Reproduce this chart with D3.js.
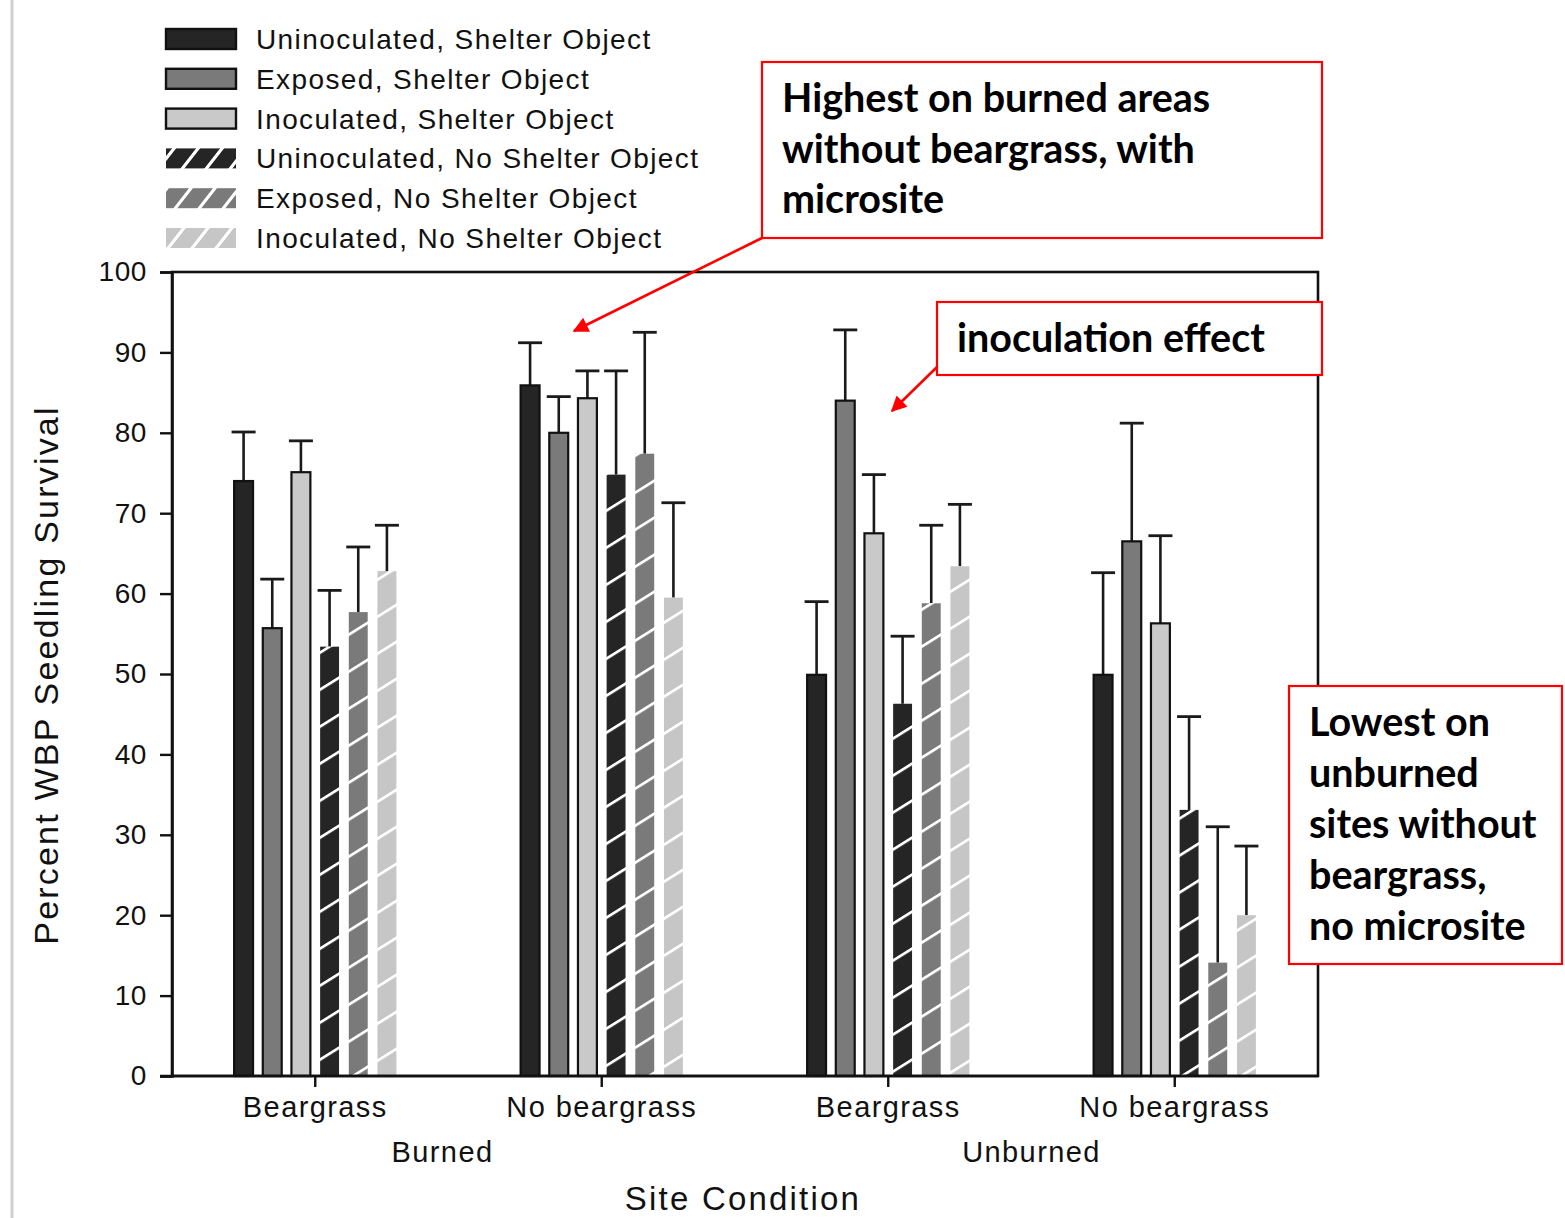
<!DOCTYPE html>
<html><head><meta charset="utf-8">
<script src="https://cdn.jsdelivr.net/npm/d3@7"></script>
<style>
html,body{margin:0;padding:0;background:#fff;}
svg{display:block;}
.sans{font-family:"Liberation Sans",Arial,sans-serif;fill:#111;}
.note{font-family:Lato,"Open Sans",sans-serif;font-weight:700;fill:#000;}
</style></head>
<body>
<svg id="chart" width="1565" height="1218"></svg>
<script>
// ---------------- data ----------------
const categories = ["Beargrass", "No beargrass", "Beargrass", "No beargrass"];
const sites = ["Burned", "Unburned"];
const seriesNames = [
  "Uninoculated, Shelter Object",
  "Exposed, Shelter Object",
  "Inoculated, Shelter Object",
  "Uninoculated, No Shelter Object",
  "Exposed, No Shelter Object",
  "Inoculated, No Shelter Object"
];
const uninocShelter    = [74.0, 85.9, 49.9, 49.9];
const exposedShelter   = [55.7, 80.0, 84.0, 66.5];
const inocShelter      = [75.1, 84.3, 67.5, 56.3];
const uninocNoShelter  = [53.4, 74.8, 46.3, 33.1];
const exposedNoShelter = [57.7, 77.4, 58.8, 14.1];
const inocNoShelter    = [62.8, 59.5, 63.4, 20.0];

const uninocShelterErr    = [6.1, 5.3, 9.1, 12.7];
const exposedShelterErr   = [6.1, 4.5, 8.8, 14.7];
const inocShelterErr      = [3.9, 3.4, 7.3, 10.9];
const uninocNoShelterErr  = [7.0, 12.9, 8.4, 11.6];
const exposedNoShelterErr = [8.1, 15.1, 9.7, 16.9];
const inocNoShelterErr    = [5.7, 11.8, 7.7, 8.6];

const yTicks = [0, 10, 20, 30, 40, 50, 60, 70, 80, 90, 100];

const annotations = [
  ["Highest on burned areas", "without beargrass, with", "microsite"],
  ["inoculation effect"],
  ["Lowest on", "unburned", "sites without", "beargrass,", "no microsite"]
];

// ---------------- build ----------------
const means = [uninocShelter, exposedShelter, inocShelter, uninocNoShelter, exposedNoShelter, inocNoShelter];
const errs  = [uninocShelterErr, exposedShelterErr, inocShelterErr, uninocNoShelterErr, exposedNoShelterErr, inocNoShelterErr];
const fills = ["#252525", "#7a7a7a", "#c9c9c9", "#252525", "#7a7a7a", "#c6c6c6"];
const hatched = [false, false, false, true, true, true];

const svg = d3.select("#chart");
const pL = 172, pR = 1318, pT = 272, pB = 1076;

const defs = svg.append("defs");
fills.forEach((c, i) => {
  if (!hatched[i]) return;
  const p = defs.append("pattern").attr("id", "hatch" + i)
    .attr("patternUnits", "userSpaceOnUse").attr("width", 10).attr("height", 37)
    .attr("patternTransform", "skewY(-32)");
  p.append("rect").attr("width", 10).attr("height", 37).attr("fill", c);
  p.append("rect").attr("y", 0).attr("width", 10).attr("height", 3.2).attr("fill", "#fff");
  const q = defs.append("pattern").attr("id", "lhatch" + i)
    .attr("patternUnits", "userSpaceOnUse").attr("width", 24).attr("height", 40)
    .attr("patternTransform", "skewX(-38)");
  q.append("rect").attr("width", 24).attr("height", 40).attr("fill", c);
  q.append("rect").attr("x", 0).attr("width", 4).attr("height", 40).attr("fill", "#fff");
});

// page border line
svg.append("line").attr("x1", 12).attr("x2", 12).attr("y1", 0).attr("y2", 1218)
  .attr("stroke", "#cfcfcf").attr("stroke-width", 3);

const x = d3.scaleBand().domain(d3.range(categories.length)).range([pL, pR]).padding(0);
const xs = d3.scaleBand().domain(d3.range(seriesNames.length)).range([-86, 86])
  .paddingInner(0.34).paddingOuter(0.17);
const y = d3.scaleLinear().domain([0, 100]).range([pB, pT]);

// bars
const g = svg.append("g");
means.forEach((arr, si) => {
  arr.forEach((v, ci) => {
    const cx = x(ci) + x.bandwidth() / 2;
    const bx = cx + xs(si);
    const bw = xs.bandwidth();
    const e = errs[si][ci];
    const mx = bx + bw / 2;
    g.append("line").attr("x1", mx).attr("x2", mx).attr("y1", y(v)).attr("y2", y(v + e))
      .attr("stroke", "#1a1a1a").attr("stroke-width", 2.6);
    g.append("line").attr("x1", mx - 12).attr("x2", mx + 12).attr("y1", y(v + e)).attr("y2", y(v + e))
      .attr("stroke", "#1a1a1a").attr("stroke-width", 2.8);
    const r = g.append("rect").attr("x", bx).attr("width", bw)
      .attr("y", y(v)).attr("height", y(0) - y(v));
    if (hatched[si]) r.attr("fill", "url(#hatch" + si + ")");
    else r.attr("fill", fills[si]).attr("stroke", "#111").attr("stroke-width", 2.2);
  });
});

// frame
svg.append("rect").attr("x", pL).attr("y", pT).attr("width", pR - pL).attr("height", pB - pT)
  .attr("fill", "none").attr("stroke", "#111").attr("stroke-width", 2.6);

// y axis
const yAxis = d3.axisLeft(y).tickValues(yTicks).tickSize(12).tickPadding(14);
const ya = svg.append("g").attr("transform", `translate(${pL},0)`).call(yAxis);
ya.select(".domain").attr("stroke", "#111").attr("stroke-width", 2.6);
ya.selectAll(".tick line").attr("stroke", "#111").attr("stroke-width", 2.4);
ya.selectAll(".tick text").attr("class", "sans").style("font-size", "28px")
  .style("letter-spacing", "0.6px").attr("fill", "#111").attr("dx", "1");

// x axis
const xAxis = d3.axisBottom(x).tickFormat(i => categories[i]).tickSize(11).tickPadding(9);
const xa = svg.append("g").attr("transform", `translate(0,${pB})`).call(xAxis);
xa.select(".domain").remove();
xa.selectAll(".tick line").attr("stroke", "#111").attr("stroke-width", 2.4);
xa.selectAll(".tick text").attr("class", "sans").style("font-size", "29px")
  .style("letter-spacing", "1.4px").attr("fill", "#111");
svg.append("line").attr("x1", pL - 12).attr("x2", pR).attr("y1", pB).attr("y2", pB)
  .attr("stroke", "#111").attr("stroke-width", 2.6);

// site labels
sites.forEach((s, i) => {
  const cx = (x(2 * i) + x(2 * i + 1) + x.bandwidth()) / 2;
  svg.append("text").attr("class", "sans").attr("x", cx - (i === 0 ? 16 : 0)).attr("y", 1162)
    .attr("text-anchor", "middle").style("font-size", "29px").style("letter-spacing", "1.4px").text(s);
});

svg.append("text").attr("class", "sans").attr("x", 743).attr("y", 1210)
  .attr("text-anchor", "middle").style("font-size", "33px").style("letter-spacing", "2.2px")
  .text("Site Condition");

svg.append("text").attr("class", "sans")
  .attr("transform", "translate(58,675) rotate(-90)")
  .attr("text-anchor", "middle").style("font-size", "34px").style("letter-spacing", "2.2px")
  .text("Percent WBP Seedling Survival");

// legend
const lg = svg.append("g");
seriesNames.forEach((n, i) => {
  const cy = 39 + i * 39.8;
  const r = lg.append("rect").attr("x", 166).attr("y", cy - 10).attr("width", 70).attr("height", 20);
  if (hatched[i]) r.attr("fill", "url(#lhatch" + i + ")");
  else r.attr("fill", fills[i]).attr("stroke", "#111").attr("stroke-width", 2.4);
  lg.append("text").attr("class", "sans").attr("x", 256).attr("y", cy + 10)
    .style("font-size", "28px").style("letter-spacing", "1.4px").text(n);
});

// annotations
const boxes = [
  {x: 762, y: 62, w: 560, h: 176, tx: 782, ty: 112, lh: 50.5, fs: 39.5},
  {x: 937, y: 302, w: 385, h: 73, tx: 957, ty: 352, lh: 50, fs: 39.5},
  {x: 1289, y: 686, w: 273, h: 278, tx: 1309, ty: 736, lh: 51, fs: 39.5}
];
annotations.forEach((lines, i) => {
  const b = boxes[i];
  svg.append("rect").attr("x", b.x).attr("y", b.y).attr("width", b.w).attr("height", b.h)
    .attr("fill", "#fff").attr("stroke", "#ff0000").attr("stroke-width", 2.2);
  const t = svg.append("text").attr("class", "note").style("font-size", b.fs + "px");
  lines.forEach((l, j) => {
    t.append("tspan").attr("x", b.tx).attr("y", b.ty + j * b.lh).text(l);
  });
});

defs.append("marker").attr("id", "arr").attr("viewBox", "0 0 10 10").attr("refX", 9).attr("refY", 5)
  .attr("markerWidth", 7).attr("markerHeight", 6).attr("markerUnits", "strokeWidth").attr("orient", "auto")
  .append("path").attr("d", "M0,0 L10,5 L0,10 Z").attr("fill", "#ff0000");
[[762, 238, 574, 331], [937, 367, 892, 411]].forEach(a => {
  svg.append("line").attr("x1", a[0]).attr("y1", a[1]).attr("x2", a[2]).attr("y2", a[3])
    .attr("stroke", "#ff0000").attr("stroke-width", 2.6).attr("marker-end", "url(#arr)");
});
</script>
</body></html>
